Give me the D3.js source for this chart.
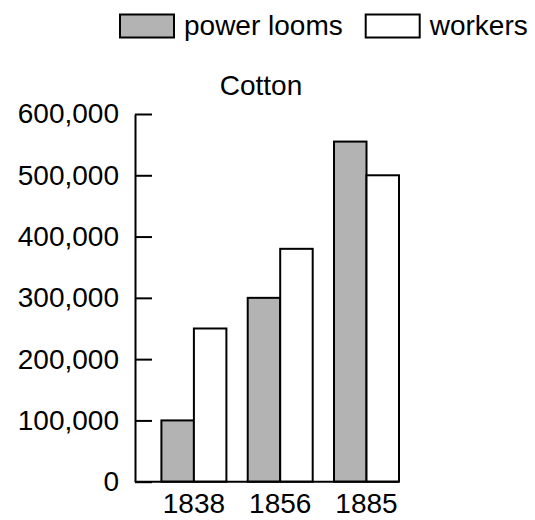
<!DOCTYPE html>
<html lang="en">
<head>
  <meta charset="UTF-8">
  <title>Cotton</title>
  <style>
    body { margin: 0; background: #fff; }
    text { font-family: "Liberation Sans", Arial, Helvetica, sans-serif; fill: #000; }
  </style>
</head>
<body>
<script src="https://d3js.org/d3.v7.min.js"></script>
<div id="chart"></div>
<script>
  // data
  const years = ["1838", "1856", "1885"];
  const powerLooms = [100000, 300000, 555000];
  const workers = [250000, 380000, 500000];
  const yTicks = [0, 100000, 200000, 300000, 400000, 500000, 600000];
  const seriesNames = ["power looms", "workers"];
  const seriesFill = ["#b3b3b3", "#ffffff"];

  const fontSize = 28;
  const svg = d3.select("#chart")
          .append("svg")
          .attr("width", 535)
          .attr("height", 520);

  const y = d3.scaleLinear().domain([0, 600000]).range([481.7, 114]);
  const x = d3.scaleBand()
          .domain(years)
          .range([135, 399])
          .paddingInner(0.247)
          .paddingOuter(0.153)
          .align(1);
  const sub = d3.scaleBand().domain(seriesNames).range([0, x.bandwidth()]);

  const values = [powerLooms, workers];

  // bars
  seriesNames.forEach(function(name, s) {
    svg.append("g")
            .selectAll("rect")
            .data(years)
            .join("rect")
            .attr("x", d => x(d) + sub(name))
            .attr("y", (d, i) => y(values[s][i]))
            .attr("width", sub.bandwidth())
            .attr("height", (d, i) => y(0) - y(values[s][i]))
            .attr("fill", seriesFill[s])
            .attr("stroke", "#000")
            .attr("stroke-width", 2);
  });

  // y axis, ticks pointing inward
  const yAxis = svg.append("g")
          .attr("transform", "translate(135,0)")
          .call(d3.axisLeft(y)
                  .tickValues(yTicks)
                  .tickFormat(d3.format(","))
                  .tickSizeInner(-17)
                  .tickSizeOuter(0)
                  .tickPadding(16));
  yAxis.selectAll("path, line").attr("stroke", "#000").attr("stroke-width", 2);
  yAxis.selectAll("text")
          .style("font-size", fontSize + "px")
          .style("font-family", "'Liberation Sans', Arial, sans-serif");

  // x axis: baseline only, labels under groups
  const xAxis = svg.append("g")
          .attr("transform", "translate(0," + y(0) + ")")
          .call(d3.axisBottom(x).tickSize(0).tickPadding(11));
  xAxis.select(".domain").remove();
  xAxis.selectAll("text")
          .style("font-size", fontSize + "px")
          .style("font-family", "'Liberation Sans', Arial, sans-serif");
  svg.append("line")
          .attr("x1", 135)
          .attr("x2", x.range()[1])
          .attr("y1", y(0))
          .attr("y2", y(0))
          .attr("stroke", "#000")
          .attr("stroke-width", 2);

  // title
  svg.append("text")
          .attr("x", 261)
          .attr("y", 95)
          .attr("text-anchor", "middle")
          .style("font-size", fontSize + "px")
          .text("Cotton");

  // legend
  const legendX = [120, 365.7];
  const legend = svg.append("g");
  seriesNames.forEach(function(name, s) {
    legend.append("rect")
            .attr("x", legendX[s])
            .attr("y", 14.5)
            .attr("width", 54)
            .attr("height", 23)
            .attr("fill", seriesFill[s])
            .attr("stroke", "#000")
            .attr("stroke-width", 2);
    legend.append("text")
            .attr("x", legendX[s] + 54 + 10)
            .attr("y", 35)
            .style("font-size", fontSize + "px")
            .text(name);
  });
</script>
</body>
</html>
